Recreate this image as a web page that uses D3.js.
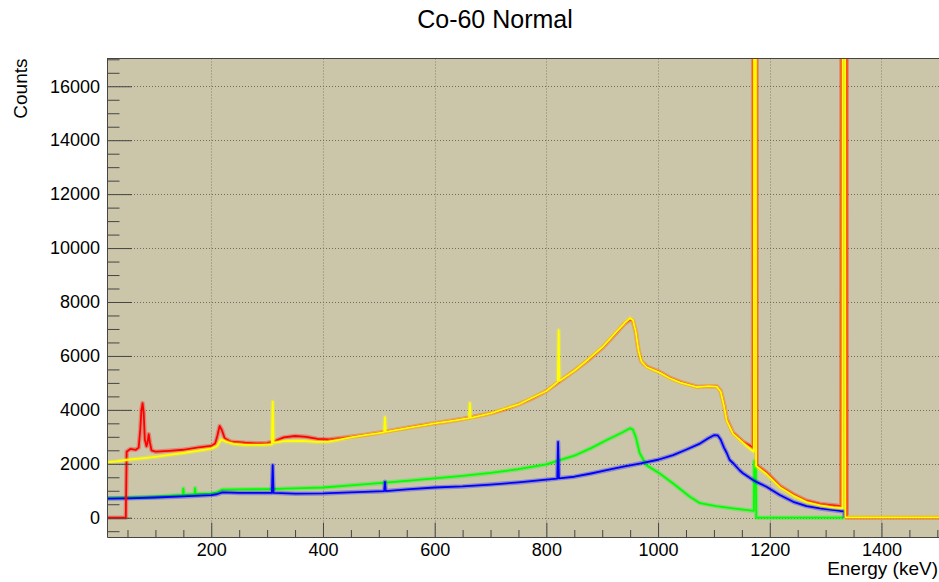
<!DOCTYPE html>
<html>
<head>
<meta charset="utf-8">
<script src="https://cdn.jsdelivr.net/npm/d3@7"></script>
<style>
  body { margin: 0; background: #fff; }
  svg { display: block; }
</style>
</head>
<body>
<div id="chart"></div>
<script>
// spectra, [energy keV, counts]
var redPoints = [[13.3,0],[47,0],[48.5,2450],[55,2550],[65,2520],[70,2600],[73,3300],[75,4000],[77,4250],[79,3900],[81,2900],[84,2650],[86,2800],[88,3100],[90,2800],[93,2500],[100,2450],[125,2480],[150,2520],[175,2600],[200,2660],[207,2750],[211,3050],[215,3400],[219,3250],[224,2950],[235,2820],[260,2780],[280,2760],[300,2770],[315,2850],[330,2980],[350,3030],[370,3000],[390,2920],[410,2900],[430,2950],[450,3000],[475,3070],[500,3150],[525,3240],[550,3330],[575,3420],[600,3500],[625,3580],[650,3660],[675,3760],[700,3870],[725,4020],[750,4200],[775,4430],[800,4700],[825,5080],[850,5450],[875,5850],[900,6300],[925,6850],[940,7200],[950,7350],[955,7300],[960,6900],[965,6200],[970,5800],[980,5600],[1003,5400],[1020,5200],[1040,5030],[1070,4850],[1090,4880],[1105,4870],[1112,4700],[1118,4200],[1123,3650],[1134,3150],[1152,2820],[1166,2650],[1170,2600],[1170.5,40000],[1176.2,40000],[1176.7,1950],[1194,1680],[1218,1180],[1242,870],[1266,630],[1290,510],[1313,460],[1328,430],[1328.8,40000],[1337.3,40000],[1337.8,0],[1503,0]];

var yellowPoints = [[13.3,2050],[30,2090],[50,2150],[75,2200],[100,2260],[125,2330],[150,2400],[175,2480],[200,2560],[210,2650],[218,2900],[226,2820],[240,2740],[260,2700],[290,2700],[308.5,2720],[310,4300],[311.5,2780],[330,2840],[360,2850],[390,2810],[410,2820],[430,2900],[450,2980],[475,3060],[500,3140],[509.5,3170],[511,3730],[512.5,3180],[550,3320],[600,3500],[640,3620],[661.5,3690],[663,4250],[664.5,3700],[700,3870],[750,4200],[800,4700],[820.5,5030],[822,6950],[823.5,5070],[850,5450],[875,5870],[900,6320],[925,6880],[940,7220],[950,7400],[955,7320],[960,6900],[965,6200],[970,5800],[980,5580],[1003,5380],[1020,5180],[1040,5010],[1070,4840],[1090,4880],[1105,4860],[1112,4680],[1118,4150],[1123,3600],[1134,3120],[1152,2780],[1166,2530],[1171.5,2450],[1172.3,40000],[1174.8,40000],[1175.5,1920],[1194,1620],[1218,1130],[1242,820],[1266,580],[1290,460],[1313,380],[1330,360],[1331.3,40000],[1334.5,40000],[1335.3,15],[1503,15]];

var greenPoints = [[13.3,720],[50,740],[100,780],[140,830],[149,840],[150,1080],[151,850],[170,870],[171,1100],[172,880],[200,900],[210,940],[220,1040],[250,1050],[300,1060],[350,1090],[400,1120],[450,1200],[500,1280],[550,1370],[600,1460],[650,1550],[700,1660],[750,1800],[800,1980],[850,2300],[880,2580],[910,2900],[935,3150],[950,3320],[955,3260],[960,3000],[967,2400],[979,1950],[1003,1640],[1027,1270],[1057,780],[1075,540],[1104,430],[1134,345],[1171.5,250],[1172.3,2100],[1175,2100],[1175.8,0],[1334,0]];

var bluePoints = [[13.3,710],[50,720],[100,750],[150,790],[200,840],[210,870],[220,940],[250,920],[308.5,920],[310,1950],[311.5,925],[350,890],[400,900],[450,940],[509.5,985],[511,1330],[512.5,990],[550,1050],[600,1120],[650,1160],[700,1230],[750,1310],[800,1410],[819.5,1450],[821,2810],[822.5,1460],[850,1520],[880,1640],[910,1770],[940,1900],[967,2010],[1000,2150],[1027,2320],[1050,2520],[1075,2750],[1090,2950],[1100,3060],[1107,3050],[1112,2900],[1118,2600],[1123,2400],[1128,2150],[1134,2030],[1146,1760],[1152,1650],[1170,1400],[1176,1330],[1194,1150],[1218,840],[1242,590],[1266,430],[1290,345],[1326,250],[1333,240],[1334,0]];

// tick values
var xMajor = [200, 400, 600, 800, 1000, 1200, 1400];
var yMajor = [0, 2000, 4000, 6000, 8000, 10000, 12000, 14000, 16000];

//set the svg size
var svgWidth = 939;
var svgHeight = 582;

// frame edges (right edge runs off the picture)
var frame = { left: 107, right: 939, top: 58.5, bottom: 537 };

var fontFamily = "'Liberation Sans', Arial, Helvetica, sans-serif";

var svg = d3.select("#chart")
  .append("svg")
  .attr("width", svgWidth)
  .attr("height", svgHeight);

// scales
var x = d3.scaleLinear().domain([13.3, 1503]).range([frame.left, frame.right]);
var y = d3.scaleLinear().domain([-715, 17030]).range([frame.bottom, frame.top]);

// minor ticks every 50 keV / 500 counts
var xMinor = d3.range(50, 1501, 50).filter(d => xMajor.indexOf(d) < 0);
var yMinor = d3.range(-500, 17001, 500).filter(d => yMajor.indexOf(d) < 0);

// plot background
svg.append("rect")
  .attr("x", frame.left)
  .attr("y", frame.top)
  .attr("width", frame.right - frame.left)
  .attr("height", frame.bottom - frame.top)
  .attr("fill", "#cbc6a9");

// dotted grid
svg.selectAll(".vgrid")
  .data(xMajor)
  .enter()
  .append("line")
  .attr("x1", d => Math.round(x(d)) + 0.5)
  .attr("x2", d => Math.round(x(d)) + 0.5)
  .attr("y1", frame.top)
  .attr("y2", frame.bottom)
  .attr("stroke", "#858170")
  .attr("stroke-dasharray", "1,2");

svg.selectAll(".hgrid")
  .data(yMajor)
  .enter()
  .append("line")
  .attr("x1", frame.left)
  .attr("x2", frame.right)
  .attr("y1", d => Math.round(y(d)) + 0.5)
  .attr("y2", d => Math.round(y(d)) + 0.5)
  .attr("stroke", "#6f6b5e")
  .attr("stroke-dasharray", "1,2");

// clip the spectra to the frame
svg.append("clipPath")
  .attr("id", "frame")
  .append("rect")
  .attr("x", frame.left)
  .attr("y", frame.top)
  .attr("width", frame.right - frame.left)
  .attr("height", frame.bottom - frame.top);

var line = d3.line()
  .x(d => x(d[0]))
  .y(d => y(d[1]));

var series = [
  { pts: greenPoints, color: "#00ff00" },
  { pts: bluePoints, color: "#0000ff" },
  { pts: redPoints, color: "#ff0000" },
  { pts: yellowPoints, color: "#ffff00" }
];

var plotGroup = svg.append("g").attr("clip-path", "url(#frame)");

series.forEach(function(s) {
  // soft halo standing in for the bin to bin scatter
  plotGroup.append("path")
    .attr("d", line(s.pts))
    .attr("fill", "none")
    .attr("stroke", s.color)
    .attr("stroke-opacity", 0.3)
    .attr("stroke-width", 4.5)
    .attr("stroke-linejoin", "round");

  plotGroup.append("path")
    .attr("d", line(s.pts))
    .attr("fill", "none")
    .attr("stroke", s.color)
    .attr("stroke-width", 1.8)
    .attr("stroke-linejoin", "round");
});

// axes, ticks point into the frame
function styleAxis(g) {
  g.attr("color", "#444")
    .attr("font-family", fontFamily)
    .attr("font-size", 18);
  g.selectAll("text").attr("fill", "#000");
}

svg.append("g")
  .attr("transform", `translate(0, ${frame.bottom})`)
  .call(d3.axisBottom(x).tickValues(xMinor).tickSize(-7).tickSizeOuter(0).tickFormat(""))
  .call(g => g.select(".domain").remove())
  .attr("color", "#444");

svg.append("g")
  .attr("transform", `translate(0, ${frame.bottom})`)
  .call(d3.axisBottom(x).tickValues(xMajor).tickSize(-14.3).tickSizeOuter(0).tickPadding(6).tickFormat(d3.format("d")))
  .call(styleAxis);

svg.append("g")
  .attr("transform", `translate(${frame.left}, 0)`)
  .call(d3.axisLeft(y).tickValues(yMinor).tickSize(-12.5).tickSizeOuter(0).tickFormat(""))
  .call(g => g.select(".domain").remove())
  .attr("color", "#444");

svg.append("g")
  .attr("transform", `translate(${frame.left}, 0)`)
  .call(d3.axisLeft(y).tickValues(yMajor).tickSize(-25).tickSizeOuter(0).tickPadding(7).tickFormat(d3.format("d")))
  .call(styleAxis);

// top edge of the frame
svg.append("line")
  .attr("x1", frame.left)
  .attr("x2", frame.right)
  .attr("y1", frame.top)
  .attr("y2", frame.top)
  .attr("stroke", "#444");

// titles
svg.append("text")
  .attr("x", 495)
  .attr("y", 28)
  .attr("text-anchor", "middle")
  .attr("font-family", fontFamily)
  .attr("font-size", 25)
  .text("Co-60 Normal");

svg.append("text")
  .attr("x", 938)
  .attr("y", 575)
  .attr("text-anchor", "end")
  .attr("font-family", fontFamily)
  .attr("font-size", 19)
  .text("Energy (keV)");

svg.append("text")
  .attr("transform", `translate(26.5, ${frame.top}) rotate(-90)`)
  .attr("text-anchor", "end")
  .attr("font-family", fontFamily)
  .attr("font-size", 19)
  .text("Counts");
</script>
</body>
</html>
